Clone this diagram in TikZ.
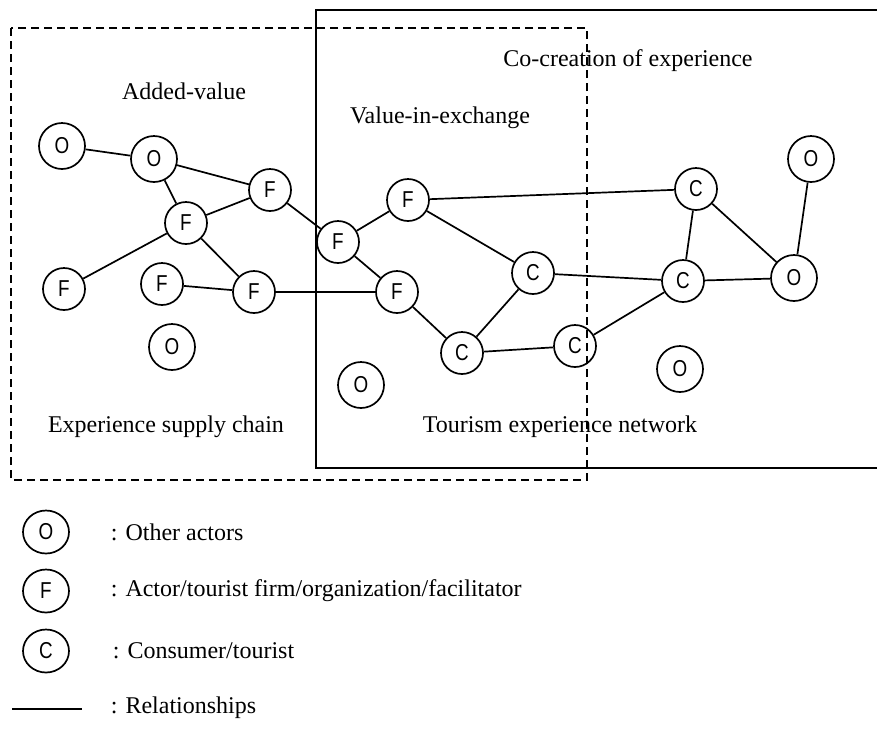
\documentclass[tikz,border=0pt]{standalone}
\usepackage{fontspec}
\setmainfont{Liberation Serif}
\newfontfamily\actorfont{Liberation Sans}
\usetikzlibrary{shapes.geometric}

\newcommand\actorletter[1]{\scalebox{0.82}[1]{#1}}

\tikzset{
  actor/.style={draw, circle, minimum size=42pt, inner sep=0pt,
    font=\actorfont\fontsize{23}{23}\selectfont},
  other/.style={actor, minimum size=46pt},
  keyactor/.style={draw, ellipse, minimum width=46pt, minimum height=43pt,
    inner sep=0pt, font=\actorfont\fontsize{23}{23}\selectfont},
  boxtitle/.style={inner sep=0pt, font=\fontsize{24}{28}\selectfont},
  keytext/.style={boxtitle, anchor=west},
}

\begin{document}
\begin{tikzpicture}[x=1pt, y=-1pt, line width=1.7pt]
\useasboundingbox (0,0) rectangle (877,729);
% the two regions
\draw[dash pattern=on 8pt off 5pt] (11,28) rectangle (587,480);
\draw (877,10) -- (316,10) -- (316,468) -- (877,468);
% region titles
\node[boxtitle] (added) at (184,91) {Added-value};
\node[boxtitle] (exch) at (440,118) {Value-in-exchange};
\node[boxtitle] (cocre) at (628,61) {Co-creation of experience};
\node[boxtitle] (chain) at (166,427) {Experience supply chain};
\node[boxtitle] (net) at (560,427) {Tourism experience network};
% actors
\node[other] (o1) at (62,146) {\actorletter{O}};
\node[other] (o2) at (154,159) {\actorletter{O}};
\node[other] (o3) at (172,347) {\actorletter{O}};
\node[other] (o4) at (361,385) {\actorletter{O}};
\node[other] (o5) at (680,369) {\actorletter{O}};
\node[other] (o6) at (794,278) {\actorletter{O}};
\node[other] (o7) at (811,159) {\actorletter{O}};
\node[actor] (f1) at (270,190) {\actorletter{F}};
\node[actor] (f2) at (186,223) {\actorletter{F}};
\node[actor] (f3) at (64,289) {\actorletter{F}};
\node[actor] (f4) at (162,284) {\actorletter{F}};
\node[actor] (f5) at (254,292) {\actorletter{F}};
\node[actor] (f6) at (338,242) {\actorletter{F}};
\node[actor] (f7) at (408,200) {\actorletter{F}};
\node[actor] (f8) at (397,292) {\actorletter{F}};
\node[actor] (c1) at (533,273) {\actorletter{C}};
\node[actor] (c2) at (462,353) {\actorletter{C}};
\node[actor] (c3) at (575,346) {\actorletter{C}};
\node[actor] (c4) at (696,189) {\actorletter{C}};
\node[actor] (c5) at (683,281) {\actorletter{C}};
% relationships
\foreach \a/\b in {o1/o2, o2/f1, o2/f2, f2/f1, f2/f3, f2/f5, f4/f5,
    f1/f6, f6/f7, f6/f8, f5/f8, f7/c4, f7/c1, f8/c2, c2/c1, c2/c3,
    c1/c5, c3/c5, c4/c5, c4/o6, c5/o6, o7/o6}
\draw (\a) -- (\b);
% legend
\node[keyactor] (ko) at (46,532) {\actorletter{O}};
\node[keyactor] (kf) at (46,591) {\actorletter{F}};
\node[keyactor] (kc) at (46,651) {\actorletter{C}};
\coordinate (kl1) at (12,709);
\coordinate (kl2) at (82,709);
\draw (kl1) -- (kl2);
\node[keytext] (kot) at (110,532) {: Other actors};
\node[keytext] (kft) at (110,591) {: Actor/tourist firm/organization/facilitator};
\node[keytext] (kct) at (112,651) {: Consumer/tourist};
\node[keytext] (klt) at (110,708) {: Relationships};
\end{tikzpicture}
\end{document}
